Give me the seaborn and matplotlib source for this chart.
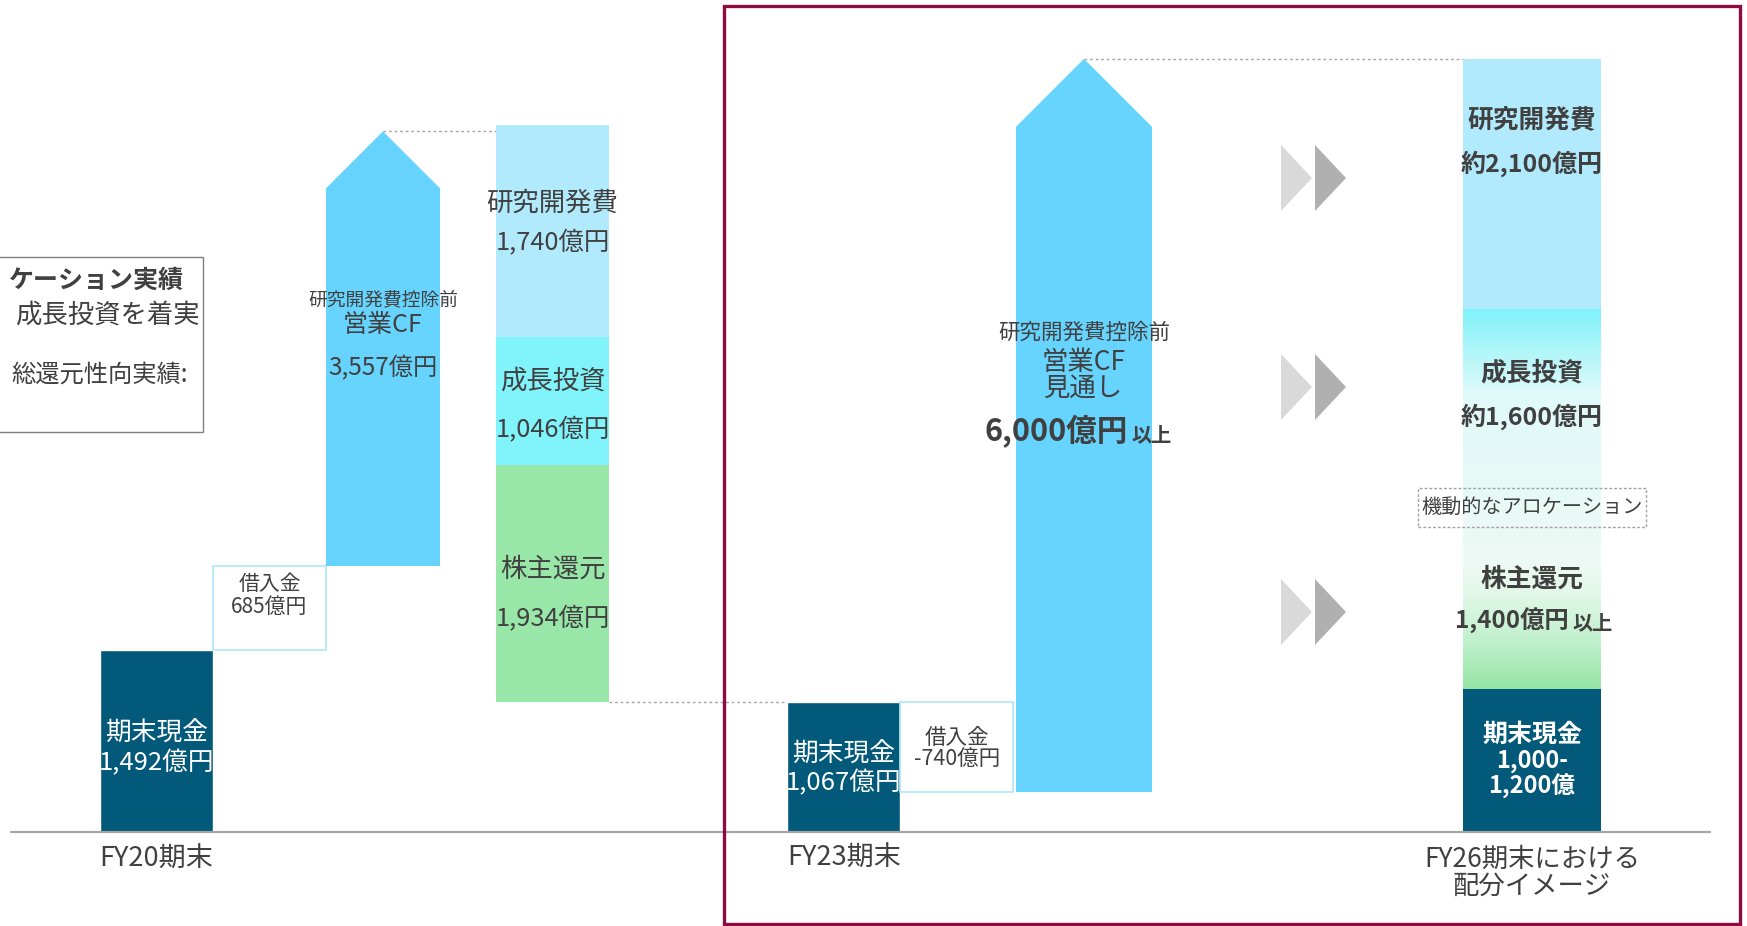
import numpy as np
import pandas as pd
import matplotlib
matplotlib.use("Agg")
import matplotlib.pyplot as plt
import seaborn as sns
from matplotlib.patches import Rectangle, Polygon
from matplotlib.colors import LinearSegmentedColormap

# ---------------- data (億円) ----------------
period_labels = ["FY20期末", "FY23期末", "FY26期末における\n配分イメージ"]
cash_values = [1492, 1067]                 # 期末現金 FY20, FY23
cash_texts = ["1,492億円", "1,067億円"]
fy20_borrow = 685
fy20_cf = 3557
fy20_alloc_names = ["株主還元", "成長投資", "研究開発費"]
fy20_alloc_values = [1934, 1046, 1740]
fy20_alloc_texts = ["1,934億円", "1,046億円", "1,740億円"]
fy23_borrow = -740
fy23_cf = 6000
fy26_names = ["期末現金", "株主還元・成長投資", "研究開発費"]
fy26_heights = [1170, 3107, 2050]          # heights as drawn in the picture
fy26_texts = ["約2,100億円", "約1,600億円", "1,400億円"]

# ---------------- style ----------------
sns.set_theme(style="white")
plt.rcParams['font.family'] = ['Noto Sans CJK JP', 'DejaVu Sans']

DARK = "#02597A"
ARROW = "#66D4FE"
RD = "#B0EAFC"
GROW = "#80F4FA"
SHARE = "#98E6A8"
TXT = "#404040"
GRID = "#a6a6a6"

S = 0.1222       # px per 億円
BASE = 832       # baseline pixel row


def yd(px):
    return (BASE - px) / S


def hd(px):
    return px / S


fig = plt.figure(figsize=(17.47, 9.26), dpi=100)
ax = fig.add_axes([0, 0, 1, 1])

# ---- cash bars FY20 / FY23 via seaborn ----
cash_x = [156.5, 844.0]
df_cash = pd.DataFrame({"x": cash_x, "y": cash_values})
sns.barplot(data=df_cash, x="x", y="y", native_scale=True,
            width=113 / (cash_x[1] - cash_x[0]), color=DARK, saturation=1,
            errorbar=None, ax=ax, zorder=2)

# ---- FY20 borrowing ----
ax.bar(269.5, fy20_borrow, bottom=cash_values[0], width=113, facecolor="white",
       edgecolor="#aee6fa", lw=1.2, zorder=2)
# ---- FY20 CF arrow ----
b0 = cash_values[0] + fy20_borrow
tip0 = b0 + fy20_cf
x0, x1 = 326, 440
head = hd((x1 - x0) / 2)
ax.add_patch(Polygon([(x0, b0), (x1, b0), (x1, tip0 - head), ((x0 + x1) / 2, tip0),
                      (x0, tip0 - head)], closed=True, facecolor=ARROW, lw=0, zorder=2))
# ---- FY20 allocation stack ----
bottom = cash_values[1]
cols = [SHARE, GROW, RD]
for v, c in zip(fy20_alloc_values, cols):
    ax.bar(552.5, v, bottom=bottom, width=113, color=c, lw=0, zorder=2)
    bottom += v

# ---- FY23 borrowing ----
ax.bar(957, fy23_borrow, bottom=cash_values[1], width=113, facecolor="white",
       edgecolor="#aee6fa", lw=1.2, zorder=2)
b1 = cash_values[1] + fy23_borrow
tip1 = b1 + fy23_cf
x0, x1 = 1016, 1152
head = hd((x1 - x0) / 2)
ax.add_patch(Polygon([(x0, b1), (x1, b1), (x1, tip1 - head), ((x0 + x1) / 2, tip1),
                      (x0, tip1 - head)], closed=True, facecolor=ARROW, lw=0, zorder=2))

# ---- FY26 stack ----
fx0, fx1 = 1463, 1601
ax.bar((fx0 + fx1) / 2, fy26_heights[0], width=fx1 - fx0, color=DARK, lw=0, zorder=2)
mid_b = fy26_heights[0]
mid_t = mid_b + fy26_heights[1]
grad = LinearSegmentedColormap.from_list("g", [
    (0.0, "#96E5A6"), (0.12, "#bff0cb"), (0.25, "#e2f8e8"), (0.33, "#eefaf5"),
    (0.55, "#e6f9f7"), (0.78, "#e0fafa"), (0.86, "#bdf7fa"), (1.0, "#80F2F9")])
ax.imshow(np.linspace(0, 1, 256).reshape(-1, 1), cmap=grad, origin="lower",
          extent=[fx0, fx1, mid_b, mid_t], aspect="auto", interpolation="bicubic", zorder=2)
ax.bar((fx0 + fx1) / 2, fy26_heights[2], bottom=mid_t, width=fx1 - fx0, color=RD, lw=0, zorder=2)

# ---- dotted connectors ----
dot = dict(color=GRID, lw=1.0, linestyle=(0, (2, 2)), zorder=1)
ax.plot([383, 496], [tip0, tip0], **dot)
ax.plot([609, 788], [cash_values[1], cash_values[1]], **dot)
ax.plot([1084, fx0], [tip1, tip1], **dot)

# ---- baseline ----
ax.plot([11, 1710], [0, 0], color=GRID, lw=1.6, zorder=3)

# ---- chevrons ----
for cy in [178, 387, 612]:
    for (xa, col) in [(1281, "#d9d9d9"), (1315, "#b0b0b0")]:
        ax.add_patch(Polygon([(xa, yd(cy - 33)), (xa, yd(cy + 33)), (xa + 31, yd(cy))],
                             closed=True, facecolor=col, lw=0, zorder=2))

# ---- dashed box ----
ax.add_patch(Rectangle((1418, yd(527)), 1646 - 1418, hd(527 - 488), fill=False,
                       edgecolor="#a0a0a0", lw=1.0, linestyle=(0, (2, 1.5)), zorder=4))
ax.text(1532, yd(507), "機動的なアロケーション", ha="center", va="center", fontsize=14.5,
        color=TXT, zorder=5)

# ---- left text box ----
ax.add_patch(Rectangle((-10, yd(432)), 213, hd(432 - 257), fill=False,
                       edgecolor="#7f7f7f", lw=1.0, zorder=4))
ax.text(184, yd(281), "ケーション実績", ha="right", va="center", fontsize=18,
        fontweight="bold", color=TXT)
ax.text(200, yd(315), "成長投資を着実", ha="right", va="center", fontsize=19, color=TXT)
ax.text(188, yd(375), "総還元性向実績:", ha="right", va="center", fontsize=17.5, color=TXT)

# ---- texts ----
def t(x, ypx, s, size, color=TXT, weight="normal", ha="center", va="center"):
    ax.text(x, yd(ypx), s, ha=ha, va=va, fontsize=size, color=color, fontweight=weight, zorder=6)

# FY20
t(156.5, 734, "期末現金", 18.5, "white")
t(156.5, 763, cash_texts[0], 18.5, "white")
t(269.5, 584, "借入金", 15)
t(269.5, 607, f"{fy20_borrow}億円", 15)
t(383, 300, "研究開発費控除前", 13.5)
t(383, 325, "営業CF", 18)
t(383, 368, f"{fy20_cf:,}億円", 17.5)
t(552.5, 619, fy20_alloc_texts[0], 18.3)
t(552.5, 569, fy20_alloc_names[0], 19)
t(552.5, 430, fy20_alloc_texts[1], 18.3)
t(552.5, 381, fy20_alloc_names[1], 19)
t(552.5, 243, fy20_alloc_texts[2], 18.3)
t(552.5, 203, fy20_alloc_names[2], 19)
t(156.5, 859, period_labels[0], 19.5)

# FY23
t(844, 755, "期末現金", 18.5, "white")
t(844, 783, cash_texts[1], 18.5, "white")
t(957, 738, "借入金", 15.5)
t(957, 760, f"{fy23_borrow}億円", 15.5)
t(1084, 333, "研究開発費控除前", 15.5)
t(1084, 362, "営業CF", 19)
t(1084, 388, "見通し", 19)
t(1128, 441, f"{fy23_cf:,}億円", 22, weight="bold", ha="right", va="baseline")
t(1131, 441, "以上", 14.5, weight="bold", ha="left", va="baseline")
t(844, 858, period_labels[1], 19.5)

# FY26
t(1532, 121, "研究開発費", 18.5, weight="bold")
t(1532, 164, fy26_texts[0], 18, weight="bold")
t(1532, 373, "成長投資", 18.5, weight="bold")
t(1532, 417, fy26_texts[1], 18, weight="bold")
t(1532, 579, "株主還元", 18.5, weight="bold")
t(1569, 629, fy26_texts[2], 17.5, weight="bold", ha="right", va="baseline")
t(1572, 629, "以上", 14.5, weight="bold", ha="left", va="baseline")
t(1532, 735, "期末現金", 18, "white", weight="bold")
t(1532, 761, "1,000-", 17, "white", weight="bold")
t(1532, 786, "1,200億", 17, "white", weight="bold")
t(1532, 859, "FY26期末における", 19)
t(1532, 886, "配分イメージ", 19)

# ---- maroon frame ----
fig.add_artist(Rectangle((724 / 1747, 1 - 924 / 926), (1740 - 724) / 1747, (924 - 6) / 926,
                         transform=fig.transFigure, fill=False, edgecolor="#8C0B43", lw=2.4))

ax.set_xlim(0, 1747)
ax.set_ylim(yd(926), yd(0))
ax.axis("off")

fig.savefig("out.png", dpi=100)
